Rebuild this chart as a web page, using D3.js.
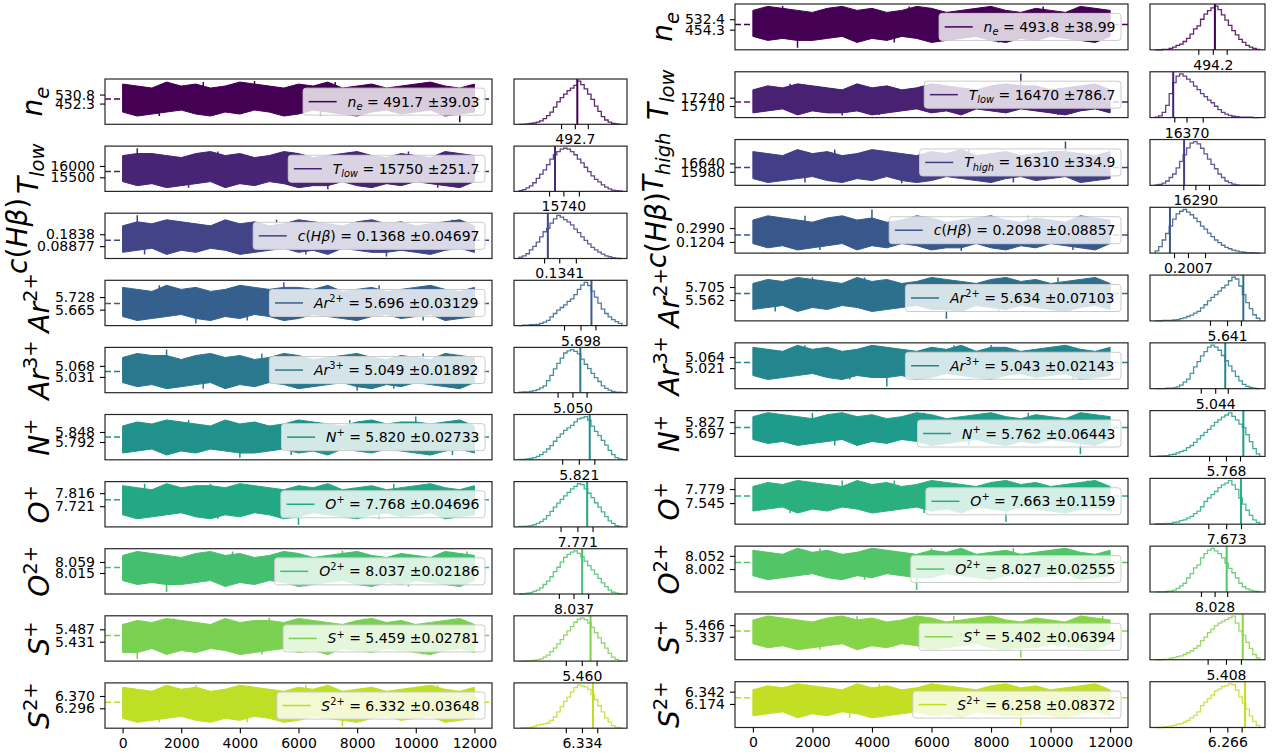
<!DOCTYPE html>
<html>
<head>
<meta charset="utf-8">
<script src="https://cdn.jsdelivr.net/npm/d3@7"></script>
<style>
body { margin: 0; background: #fff; }
svg { font-family: "DejaVu Sans", sans-serif; }
</style>
</head>
<body>
<svg id="chart" width="1274" height="756"></svg>
<script>
// chain steps where the trace envelope was read
var steps = [0,500,1000,1500,2000,2500,3000,3500,4000,4500,5000,5500,6000,6500,7000,7500,8000,8500,9000,9500,10000,10500,11000,11500,12000];
var stepTicks = [0,2000,4000,6000,8000,10000,12000];

// ---------- left run ----------
var leftNames = ['ne','Tlow','cHb','Ar2','Ar3','N1','O1','O2','S1','S2'];
var leftMean = [491.7, 15750, 0.1368, 5.696, 5.049, 5.820, 7.768, 8.037, 5.459, 6.332];
var leftStd = [39.03, 251.7, 0.04697, 0.03129, 0.01892, 0.02733, 0.04696, 0.02186, 0.02781, 0.03648];
var leftMedian = [492.7, 15740, 0.1341, 5.698, 5.050, 5.821, 7.771, 8.037, 5.460, 6.334];
var leftTicks = [[452.3,530.8],[15500,16000],[0.08877,0.1838],[5.665,5.728],[5.031,5.068],[5.792,5.848],[7.721,7.816],[8.015,8.059],[5.431,5.487],[6.296,6.370]];
var leftBest = [500, 15600, 0.100, 5.720, 5.060, 5.840, 7.800, 8.050, 5.476, 6.360];

var leftTraceHi = [
  [622.5,605.1,587.6,639.9,605.1,622.5,587.6,605.1,639.9,622.5,605.1,587.6,622.5,605.1,639.9,587.6,605.1,622.5,587.6,605.1,622.5,639.9,605.1,587.6,622.5],
  [16458,16547,16547,16458,16370,16547,16635,16458,16547,16370,16458,16635,16547,16370,16458,16547,16635,16458,16370,16547,16458,16370,16635,16547,16458],
  [0.2505,0.2830,0.2668,0.2992,0.2830,0.2668,0.2505,0.2992,0.2668,0.2830,0.2505,0.2668,0.2992,0.2830,0.2668,0.2505,0.2830,0.2992,0.2668,0.2830,0.2505,0.2668,0.2830,0.2992,0.2505],
  [5.7766,5.7666,5.7565,5.7867,5.7666,5.7766,5.7565,5.7666,5.7867,5.7766,5.7666,5.7766,5.7766,5.7666,5.7867,5.7565,5.7666,5.7766,5.7565,5.7666,5.7766,5.7867,5.7666,5.7565,5.7766],
  [5.0961,5.1096,5.1028,5.1028,5.0894,5.1028,5.1096,5.0961,5.1028,5.0894,5.0961,5.1096,5.1028,5.0894,5.0961,5.1028,5.1096,5.0961,5.0894,5.1028,5.0961,5.0894,5.1096,5.1028,5.0961],
  [5.8816,5.904,5.8928,5.9152,5.904,5.8928,5.8816,5.9152,5.8928,5.904,5.8816,5.8928,5.9152,5.904,5.8928,5.8816,5.904,5.9152,5.8928,5.904,5.904,5.8928,5.904,5.9152,5.8816],
  [7.8703,7.8557,7.8411,7.885,7.8557,7.8703,7.8703,7.8557,7.885,7.8703,7.8557,7.8411,7.8703,7.8557,7.885,7.8411,7.8557,7.8703,7.8411,7.8557,7.8703,7.885,7.8557,7.8411,7.8703],
  [8.085,8.101,8.093,8.085,8.077,8.093,8.101,8.085,8.093,8.077,8.085,8.101,8.093,8.077,8.085,8.093,8.101,8.085,8.077,8.093,8.085,8.077,8.101,8.093,8.085],
  [5.5087,5.5267,5.5177,5.5358,5.5267,5.5177,5.5087,5.5358,5.5177,5.5267,5.5267,5.5177,5.5358,5.5267,5.5177,5.5087,5.5267,5.5358,5.5177,5.5267,5.5087,5.5177,5.5267,5.5358,5.5087],
  [6.4222,6.4102,6.3982,6.4343,6.4102,6.4222,6.3982,6.4102,6.4343,6.4222,6.4102,6.3982,6.4222,6.4102,6.4343,6.3982,6.4102,6.4222,6.3982,6.4102,6.4222,6.4343,6.4102,6.3982,6.4222]
];
var leftTraceLo = [
  [378.3,343.5,360.9,378.3,395.8,360.9,343.5,378.3,360.9,395.8,378.3,343.5,360.9,395.8,378.3,360.9,343.5,378.3,395.8,360.9,378.3,395.8,343.5,360.9,378.3],
  [15308,15131,15219,15042,15131,15219,15308,15042,15219,15131,15308,15219,15042,15131,15131,15308,15131,15042,15219,15131,15308,15219,15131,15042,15308],
  [0.0393,0.0556,0.0718,0.0231,0.0556,0.0393,0.0718,0.0556,0.0231,0.0393,0.0556,0.0718,0.0393,0.0556,0.0231,0.0718,0.0556,0.0393,0.0393,0.0556,0.0393,0.0231,0.0556,0.0718,0.0393],
  [5.6305,5.6103,5.6204,5.6305,5.6406,5.6204,5.6103,5.6305,5.6204,5.6406,5.6305,5.6103,5.6204,5.6406,5.6305,5.6204,5.6103,5.6305,5.6406,5.6204,5.6305,5.6406,5.6103,5.6204,5.6305],
  [5.0120,4.9985,5.0053,4.9918,4.9985,5.0053,5.0120,4.9918,5.0053,4.9985,5.0120,5.0053,4.9918,4.9985,5.0053,5.0120,4.9985,4.9918,5.0053,4.9985,5.0120,5.0053,4.9985,4.9918,5.0120],
  [5.7304,5.7416,5.7528,5.7192,5.7416,5.7304,5.7528,5.7416,5.7304,5.7304,5.7416,5.7528,5.7304,5.7416,5.7192,5.7528,5.7416,5.7304,5.7528,5.7416,5.7304,5.7192,5.7416,5.7528,5.7304],
  [7.6583,7.6291,7.6437,7.6583,7.673,7.6437,7.6291,7.6583,7.6437,7.673,7.6583,7.6291,7.6437,7.673,7.6583,7.6437,7.6291,7.6583,7.673,7.6437,7.6583,7.673,7.6291,7.6437,7.6583],
  [7.985,7.969,7.977,7.969,7.969,7.977,7.985,7.961,7.977,7.969,7.985,7.977,7.961,7.969,7.977,7.985,7.969,7.961,7.977,7.969,7.985,7.977,7.969,7.961,7.985],
  [5.3822,5.3822,5.4003,5.3732,5.3913,5.3822,5.4003,5.3913,5.3732,5.3822,5.3913,5.4003,5.3822,5.3913,5.3732,5.4003,5.3913,5.3822,5.4003,5.3913,5.3822,5.3732,5.3913,5.4003,5.3822],
  [6.2357,6.2117,6.2237,6.2357,6.2478,6.2237,6.2117,6.2357,6.2237,6.2478,6.2357,6.2117,6.2237,6.2478,6.2357,6.2237,6.2117,6.2357,6.2478,6.2237,6.2357,6.2478,6.2117,6.2237,6.2357]
];
// isolated excursions of the chain: [step, value]
var leftSpikes = [
  [[4500,648.7],[11500,289.4],[2750,639.9],[7250,639.9],[1250,343.5],[6750,343.5]],
  [[500,16785],[7000,14967],[3250,16635],[9750,16635],[2250,15042],[10750,15042]],
  [[500,0.3350],[9000,0.0068],[5250,0.2992],[11250,0.2992],[750,0.0231],[6250,0.0231]],
  [[5500,5.8018],[2500,5.5952],[1250,5.7867],[8750,5.7867],[4250,5.6103],[10250,5.6103]],
  [[1500,5.1230],[8000,4.9851],[4750,5.1096],[10250,5.1096],[2750,4.9918],[9250,4.9918]],
  [[10000,5.9342],[4000,5.7041],[2250,5.9152],[7750,5.9152],[5750,5.7192],[11250,5.7192]],
  [[3000,7.885],[6000,7.5853],[750,7.885],[9250,7.885],[3250,7.6291],[8750,7.6291]],
  [[7500,8.1038],[1500,7.9394],[3750,8.101],[11750,8.101],[6250,7.961],[9750,7.961]],
  [[5000,5.5385],[500,5.3529],[1750,5.5358],[8250,5.5358],[4750,5.3732],[10250,5.3732]],
  [[2500,6.4361],[7500,6.1888],[6250,6.4343],[10750,6.4343],[1250,6.2117],[4250,6.2117]]
];

var leftHistRange = [[329,631],[14998,16721],[0.0141,0.3215],[5.575,5.781],[4.982,5.113],[5.717,5.896],[7.598,7.903],[7.9555,8.1095],[5.346,5.533],[6.186,6.428]];
var leftHistCounts = [
  [0,0,1,2,3,5,8,13,20,28,40,52,62,70,78,84,90,100,92,82,70,58,42,30,18,10,5,2,1,0],
  [2,4,8,13,20,30,40,50,62,75,85,92,98,100,98,92,85,75,66,56,46,36,28,22,15,10,6,3,2,1],
  [3,6,11,20,28,38,50,62,70,82,92,100,96,90,85,78,68,60,50,42,34,26,20,15,10,6,4,2,1,0],
  [0,1,1,2,2,3,5,8,12,20,28,36,42,48,56,62,72,84,94,100,93,80,66,52,38,28,20,14,9,5],
  [1,2,2,3,5,7,11,16,28,40,55,68,80,92,97,100,96,90,78,66,56,45,35,26,16,10,6,3,1,1],
  [1,1,2,3,5,8,12,18,25,33,43,52,60,68,74,80,88,95,97,100,92,78,66,56,45,34,22,12,5,2],
  [1,1,2,3,5,8,12,18,26,36,46,55,64,72,80,88,94,100,98,88,78,68,56,46,35,24,14,8,3,1],
  [0,1,2,3,6,9,14,22,30,40,52,62,74,85,92,97,100,94,86,76,66,56,46,36,26,17,9,4,2,1],
  [0,0,1,1,2,3,5,9,14,22,30,40,50,60,70,80,90,97,100,96,88,78,66,54,42,30,18,9,4,1],
  [0,1,1,2,4,7,9,10,12,18,26,38,50,62,72,84,94,100,98,96,90,78,66,52,38,24,14,6,2,1]
];

// ---------- right run ----------
var rightNames = ['ne','Tlow','Thigh','cHb','Ar2','Ar3','N1','O1','O2','S1','S2'];
var rightMean = [493.8, 16470, 16310, 0.2098, 5.634, 5.043, 5.762, 7.663, 8.027, 5.402, 6.258];
var rightStd = [38.99, 786.7, 334.9, 0.08857, 0.07103, 0.02143, 0.06443, 0.1159, 0.02555, 0.06394, 0.08372];
var rightMedian = [494.2, 16370, 16290, 0.2007, 5.641, 5.044, 5.768, 7.673, 8.028, 5.408, 6.266];
var rightTicks = [[454.3,532.4],[15710,17240],[15980,16640],[0.1204,0.2990],[5.562,5.705],[5.021,5.064],[5.697,5.827],[7.545,7.779],[8.002,8.052],[5.337,5.466],[6.174,6.342]];
var rightBest = [500, 15650, 16000, 0.097, 5.716, 5.060, 5.841, 7.779, 8.051, 5.473, 6.360];

var rightTraceHi = [
  [598.9,629.0,614.0,598.9,583.9,614.0,629.0,598.9,614.0,583.9,598.9,629.0,614.0,583.9,598.9,614.0,629.0,598.9,583.9,614.0,598.9,583.9,629.0,614.0,598.9],
  [18682,19419,19050,19787,19419,19050,18682,19787,19050,19419,18682,19050,19787,19419,19050,18682,19419,19787,19419,19419,18682,19050,19419,19787,18682],
  [17568,17410,17253,17725,17410,17568,17253,17410,17725,17568,17410,17253,17568,17410,17725,17253,17410,17568,17253,17410,17568,17568,17410,17253,17568],
  [0.4022,0.4571,0.4296,0.4022,0.3747,0.4296,0.4571,0.4022,0.4296,0.3747,0.4022,0.4571,0.4296,0.3747,0.4022,0.4296,0.4571,0.4022,0.3747,0.4296,0.4022,0.3747,0.4571,0.4296,0.4022],
  [5.744,5.788,5.766,5.810,5.788,5.766,5.744,5.810,5.766,5.788,5.744,5.766,5.810,5.788,5.766,5.744,5.788,5.810,5.766,5.788,5.744,5.766,5.788,5.810,5.744],
  [5.1017,5.0938,5.086,5.1095,5.0938,5.1017,5.086,5.0938,5.1095,5.1017,5.0938,5.086,5.1017,5.0938,5.1095,5.086,5.1017,5.1017,5.086,5.0938,5.1017,5.1095,5.0938,5.086,5.1017],
  [5.892,5.9393,5.9157,5.892,5.8684,5.9157,5.9393,5.892,5.9157,5.8684,5.892,5.9393,5.9157,5.8684,5.892,5.9157,5.9393,5.892,5.8684,5.9157,5.892,5.8684,5.9393,5.9157,5.892],
  [7.8217,7.8886,7.8552,7.922,7.8886,7.8552,7.8217,7.922,7.8552,7.8886,7.8217,7.8552,7.922,7.8886,7.8552,7.8217,7.8886,7.922,7.8552,7.8886,7.8217,7.8552,7.8886,7.922,7.8217],
  [8.0732,8.0655,8.0578,8.0808,8.0655,8.0732,8.0578,8.0655,8.0808,8.0732,8.0655,8.0578,8.0732,8.0655,8.0808,8.0578,8.0655,8.0732,8.0578,8.0655,8.0732,8.0808,8.0655,8.0578,8.0732],
  [5.5233,5.5675,5.5454,5.5233,5.5013,5.5454,5.5675,5.5233,5.5454,5.5013,5.5233,5.5675,5.5454,5.5013,5.5233,5.5454,5.5675,5.5233,5.5013,5.5454,5.5233,5.5013,5.5675,5.5454,5.5233],
  [6.3673,6.4219,6.3946,6.4492,6.4219,6.3946,6.3673,6.4492,6.3946,6.4219,6.3673,6.3946,6.4492,6.4219,6.3946,6.3673,6.4219,6.4492,6.3946,6.4219,6.3673,6.3946,6.4219,6.4492,6.3673]
];
var rightTraceLo = [
  [403.7,373.6,388.7,373.6,373.6,388.7,403.7,358.6,388.7,373.6,403.7,388.7,358.6,373.6,388.7,403.7,373.6,358.6,388.7,373.6,403.7,388.7,373.6,358.6,403.7],
  [14443,14811,15180,14074,14811,14443,14443,14811,14074,14443,14811,15180,14443,14811,14074,15180,14811,14443,15180,14811,14443,14074,14811,15180,14443],
  [15445,15131,15288,15445,15603,15288,15131,15445,15288,15603,15288,15131,15288,15603,15445,15288,15131,15445,15603,15288,15445,15603,15131,15288,15445],
  [0.0999,0.0449,0.0724,0.0174,0.0449,0.0724,0.0999,0.0174,0.0724,0.0449,0.0999,0.0724,0.0174,0.0449,0.0449,0.0999,0.0449,0.0174,0.0724,0.0449,0.0999,0.0724,0.0449,0.0174,0.0999],
  [5.458,5.480,5.502,5.436,5.480,5.458,5.502,5.480,5.436,5.458,5.480,5.502,5.458,5.458,5.436,5.502,5.480,5.458,5.502,5.480,5.458,5.436,5.480,5.502,5.458],
  [4.9922,4.9765,4.9844,4.9922,5.0,4.9844,4.9765,4.9922,4.9844,4.9844,4.9922,4.9765,4.9844,5.0,4.9922,4.9844,4.9765,4.9922,5.0,4.9844,4.9922,5.0,4.9765,4.9844,4.9922],
  [5.6202,5.5729,5.5965,5.5492,5.5729,5.5965,5.6202,5.5492,5.5965,5.5729,5.6202,5.5965,5.5492,5.5729,5.5965,5.6202,5.5729,5.5492,5.5965,5.5729,5.6202,5.5965,5.5729,5.5492,5.6202],
  [7.4124,7.4458,7.4792,7.3789,7.4458,7.4124,7.4792,7.4458,7.3789,7.4124,7.4458,7.4792,7.4124,7.4458,7.3789,7.4792,7.4458,7.4124,7.4792,7.4458,7.4124,7.3789,7.4458,7.4792,7.4124],
  [7.977,7.9616,7.9693,7.977,7.9847,7.9693,7.9616,7.977,7.9693,7.9847,7.977,7.9693,7.9693,7.9847,7.977,7.9693,7.9616,7.977,7.9847,7.9693,7.977,7.9847,7.9616,7.9693,7.977],
  [5.2586,5.2145,5.2365,5.1924,5.2145,5.2365,5.2586,5.1924,5.2365,5.2145,5.2586,5.2365,5.1924,5.2145,5.2365,5.2586,5.2145,5.1924,5.2145,5.2145,5.2586,5.2365,5.2145,5.1924,5.2586],
  [6.0121,6.0394,6.0668,5.9848,6.0394,6.0121,6.0668,6.0394,5.9848,6.0121,6.0394,6.0668,6.0121,6.0394,5.9848,6.0668,6.0394,6.0121,6.0121,6.0394,6.0121,5.9848,6.0394,6.0668,6.0121]
];
var rightSpikes = [
  [[1000,631.2],[1500,318.8],[5250,629.0],[9750,629.0],[4750,358.6],[8250,358.6]],
  [[9000,21630],[3000,13964],[1250,19787],[6250,19787],[4250,14074],[10250,14074]],
  [[10500,18354],[5000,15076],[2750,17725],[7250,17725],[1750,15131],[8750,15131]],
  [[4000,0.5396],[7000,0.0037],[1750,0.4571],[9250,0.4571],[2250,0.0174],[10750,0.0174]],
  [[2000,5.8133],[6500,5.3557],[3750,5.810],[10250,5.810],[750,5.436],[8250,5.436]],
  [[8000,5.111],[4500,4.9492],[1750,5.1095],[6750,5.1095],[3250,4.9765],[10750,4.9765]],
  [[2000,5.9393],[11000,5.4429],[5750,5.9393],[9250,5.9393],[2750,5.5492],[7250,5.5492]],
  [[3000,7.922],[8500,7.2285],[4750,7.922],[11250,7.922],[1250,7.3789],[5750,7.3789]],
  [[6000,8.0808],[5500,7.9232],[2250,8.0808],[8750,8.0808],[3750,7.9616],[9250,7.9616]],
  [[3500,5.5675],[9000,5.1042],[6750,5.5675],[11750,5.5675],[2250,5.1924],[5750,5.1924]],
  [[1500,6.4492],[9000,5.881],[4250,6.4492],[8250,6.4492],[3250,5.9848],[6250,5.9848]]
];

var rightHistRange = [[335.8,623.4],[14681,20318],[15258,17946],[0.0121,0.6146],[5.309,5.792],[4.9485,5.115],[5.471,5.910],[7.165,7.9135],[7.915,8.114],[5.134,5.539],[5.884,6.438]];
var rightHistCounts = [
  [0,0,1,1,3,6,10,13,19,26,36,48,55,70,82,90,96,100,92,80,68,56,44,34,24,17,10,6,3,1],
  [1,4,12,28,55,80,95,100,95,88,82,72,64,55,48,40,34,26,18,12,8,5,3,2,1,1,1,1,0,0],
  [1,2,5,10,18,26,40,55,70,86,97,100,95,85,72,60,48,38,26,18,10,6,3,1,0,0,0,0,0,0],
  [5,15,30,45,62,78,90,96,100,94,88,80,72,62,55,46,38,30,24,18,13,10,7,5,3,2,1,1,0,0],
  [0,0,1,1,1,2,3,5,7,10,13,18,22,30,37,46,54,60,68,76,82,92,100,96,80,60,42,28,14,6],
  [0,0,0,1,1,2,4,8,15,22,35,50,62,75,85,95,100,95,88,76,64,52,40,28,18,10,5,3,1,0],
  [0,1,1,2,4,5,8,11,14,20,25,32,40,48,55,62,70,78,84,90,95,100,92,84,74,66,50,34,18,6],
  [1,1,1,2,2,4,5,8,10,14,18,24,30,40,52,60,68,75,84,90,94,100,90,80,60,46,32,20,10,4],
  [0,0,0,1,2,4,8,14,20,32,42,55,62,78,88,96,100,94,88,78,66,54,44,32,20,12,7,4,2,1],
  [0,0,1,1,3,5,7,9,12,16,20,26,32,44,52,62,70,78,84,88,92,96,100,84,66,56,40,26,12,4],
  [0,0,1,2,3,5,7,9,12,16,22,28,36,50,58,66,74,84,88,94,96,100,98,86,70,56,42,26,14,5]
];

// label text pieces: [text, kind]  i = italic, r = upright, sub / sup
var labelParts = {
  ne: [['n','i'],['e','sub']],
  Tlow: [['T','i'],['low','sub']],
  Thigh: [['T','i'],['high','sub']],
  cHb: [['c','i'],['(','r'],['H','i'],['β','i'],[')','r']],
  Ar2: [['Ar','i'],['2+','sup']],
  Ar3: [['Ar','i'],['3+','sup']],
  N1: [['N','i'],['+','sup']],
  O1: [['O','i'],['+','sup']],
  O2: [['O','i'],['2+','sup']],
  S1: [['S','i'],['+','sup']],
  S2: [['S','i'],['2+','sup']]
};

var svg = d3.select('#chart');
var fmt = d3.format('.4r');
var frameColor = '#262626';

function pad(ext) {
  var d = (ext[1] - ext[0]) * 0.05;
  return [ext[0] - d, ext[1] + d];
}

// mathtext-like tspans, returns the current baseline shift
function addMath(textSel, parts, size) {
  var shift = 0;
  parts.forEach(function(p) {
    var target = 0, fs = size, style = 'italic';
    if (p[1] === 'sub') { target = 0.24 * size; fs = 0.7 * size; }
    if (p[1] === 'sup') { target = -0.42 * size; fs = 0.7 * size; style = 'normal'; }
    if (p[1] === 'r') style = 'normal';
    textSel.append('tspan')
      .attr('dy', target - shift)
      .attr('font-size', fs)
      .attr('font-style', style)
      .text(p[0]);
    shift = target;
  });
  return shift;
}

// how far the ink of a label reaches below its baseline
function inkDescent(parts, size) {
  var d = 0;
  parts.forEach(function(p) {
    if (p[1] === 'sub') d = Math.max(d, 0.24 * size + (/[gjpqy]/.test(p[0]) ? 0.165 * size : 0));
    if (p[0] === '(' || p[0] === ')') d = Math.max(d, 0.13 * size);
  });
  return d;
}

function styleAxis(g) {
  g.select('.domain').remove();
  g.attr('font-family', '"DejaVu Sans", sans-serif').attr('font-size', 14);
  g.selectAll('line').attr('stroke', '#000').attr('stroke-width', 1.1);
  g.selectAll('text').attr('fill', '#000');
}

var clipId = 0;

function drawColumn(c) {
  var n = c.names.length;
  c.names.forEach(function(name, i) {
    var top = c.top0 + i * c.pitch;
    var bot = top + c.h;
    var cy = (top + bot) / 2;
    var color = d3.interpolateViridis(i / n);
    var hi = c.hi[i], lo = c.lo[i], sp = c.spikes[i];

    // ----- trace panel -----
    var x = d3.scaleLinear().domain(pad(d3.extent(steps))).range([c.x0, c.x1]);
    var yAll = lo.concat(hi, sp.map(function(s) { return s[1]; }));
    var y = d3.scaleLinear().domain(pad(d3.extent(yAll))).range([bot, top]);

    clipId++;
    svg.append('clipPath').attr('id', 'clip' + clipId)
      .append('rect').attr('x', c.x0).attr('y', top).attr('width', c.x1 - c.x0).attr('height', c.h);
    var pg = svg.append('g').attr('clip-path', 'url(#clip' + clipId + ')');

    pg.append('line')
      .attr('x1', c.x0).attr('x2', c.x1)
      .attr('y1', y(c.mean[i])).attr('y2', y(c.mean[i]))
      .attr('stroke', color).attr('stroke-width', 1.5).attr('stroke-dasharray', '6,3');

    var area = d3.area()
      .x(function(d, k) { return x(steps[k]); })
      .y0(function(d, k) { return y(lo[k]); })
      .y1(function(d) { return y(d); });
    pg.append('path').datum(hi)
      .attr('d', area)
      .attr('fill', color)
      .attr('stroke', color).attr('stroke-width', 1);

    pg.selectAll('line.spike').data(sp).join('line')
      .attr('class', 'spike')
      .attr('x1', function(d) { return x(d[0]); }).attr('x2', function(d) { return x(d[0]); })
      .attr('y1', y(c.mean[i])).attr('y2', function(d) { return y(d[1]); })
      .attr('stroke', color).attr('stroke-width', 1.5);

    // legend
    var lg = svg.append('g');
    var txt = lg.append('text').attr('font-size', 14).attr('y', cy + 5).attr('fill', '#000');
    var shift = addMath(txt, labelParts[name], 14);
    txt.append('tspan').attr('dy', -shift).attr('font-size', 14)
      .text(' = ' + fmt(c.mean[i]) + ' \u00b1' + fmt(c.std[i]));
    var tw = txt.node().getBBox().width;
    var bw = tw + 50;
    var bx = c.x1 - 7 - bw;
    txt.attr('x', bx + 44.5);
    lg.insert('rect', 'text')
      .attr('x', bx).attr('y', cy - 13.5).attr('width', bw).attr('height', 27)
      .attr('rx', 3).attr('fill', '#fff').attr('fill-opacity', 0.8)
      .attr('stroke', '#cccccc').attr('stroke-width', 1);
    lg.insert('line', 'text')
      .attr('x1', bx + 5.6).attr('x2', bx + 33.6).attr('y1', cy).attr('y2', cy)
      .attr('stroke', color).attr('stroke-width', 1.5);

    svg.append('rect')
      .attr('x', c.x0).attr('y', top).attr('width', c.x1 - c.x0).attr('height', c.h)
      .attr('fill', 'none').attr('stroke', frameColor).attr('stroke-width', 1.2);

    var ag = svg.append('g').attr('transform', 'translate(' + c.x0 + ',0)')
      .call(d3.axisLeft(y).tickValues(c.ticks[i]).tickFormat(fmt).tickSize(5).tickPadding(5));
    styleAxis(ag);

    if (i === n - 1) {
      var xg = svg.append('g').attr('transform', 'translate(0,' + bot + ')')
        .call(d3.axisBottom(x).tickValues(stepTicks).tickFormat(d3.format('d')).tickSize(5).tickPadding(5));
      styleAxis(xg);
    }

    // y label, ink just left of the tick labels
    var ab = ag.node().getBBox();
    var tickLeft = c.x0 + ab.x;
    var lab = svg.append('text').attr('font-size', 28).attr('text-anchor', 'middle').attr('fill', '#000');
    addMath(lab, labelParts[name], 28);
    var lx = tickLeft - 6 - inkDescent(labelParts[name], 28);
    lab.attr('transform', 'translate(' + lx + ',' + cy + ') rotate(-90)');

    // ----- histogram panel -----
    var hr = c.histRange[i], counts = c.counts[i];
    var nb = counts.length;
    var edges = d3.range(nb + 1).map(function(j) { return hr[0] + (hr[1] - hr[0]) * j / nb; });
    var hx = d3.scaleLinear().domain(pad(hr)).range([c.hx0, c.hx1]);
    var hy = d3.scaleLinear().domain([0, d3.max(counts) * 1.05]).range([bot, top]);

    var pts = [[edges[0], 0]];
    counts.forEach(function(v, j) {
      pts.push([edges[j], v]);
      pts.push([edges[j + 1], v]);
    });
    pts.push([edges[nb], 0]);

    svg.append('path').datum(pts)
      .attr('d', d3.line().x(function(d) { return hx(d[0]); }).y(function(d) { return hy(d[1]); }))
      .attr('fill', 'none').attr('stroke', color).attr('stroke-width', 1.3).attr('stroke-opacity', 0.85);

    svg.append('line')
      .attr('x1', hx(c.best[i])).attr('x2', hx(c.best[i]))
      .attr('y1', top).attr('y2', bot)
      .attr('stroke', color).attr('stroke-width', 2);

    svg.append('rect')
      .attr('x', c.hx0).attr('y', top).attr('width', c.hx1 - c.hx0).attr('height', c.h)
      .attr('fill', 'none').attr('stroke', frameColor).attr('stroke-width', 1.2);

    var hTicks = [c.ticks[i][0], c.median[i], c.ticks[i][1]];
    var hg = svg.append('g').attr('transform', 'translate(0,' + bot + ')')
      .call(d3.axisBottom(hx).tickValues(hTicks)
        .tickFormat(function(d, k) { return k === 1 ? fmt(d) : ''; })
        .tickSize(5).tickPadding(5));
    styleAxis(hg);
  });
}

drawColumn({
  names: leftNames, mean: leftMean, std: leftStd, median: leftMedian, ticks: leftTicks, best: leftBest,
  hi: leftTraceHi, lo: leftTraceLo, spikes: leftSpikes, histRange: leftHistRange, counts: leftHistCounts,
  x0: 105, x1: 492, hx0: 514, hx1: 627, top0: 79, pitch: 67.1, h: 45.3
});

drawColumn({
  names: rightNames, mean: rightMean, std: rightStd, median: rightMedian, ticks: rightTicks, best: rightBest,
  hi: rightTraceHi, lo: rightTraceLo, spikes: rightSpikes, histRange: rightHistRange, counts: rightHistCounts,
  x0: 735, x1: 1128, hx0: 1150, hx1: 1265, top0: 4, pitch: 67.77, h: 45.8
});
</script>
</body>
</html>
